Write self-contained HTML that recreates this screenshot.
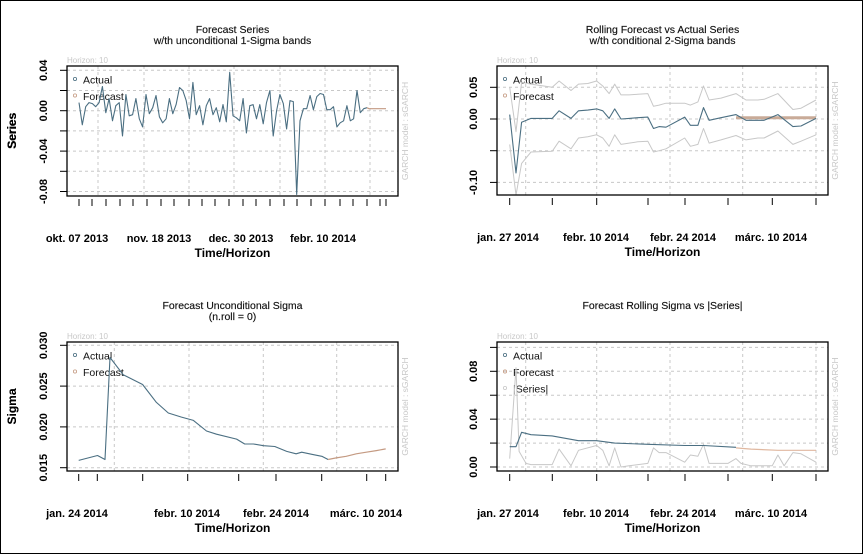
<!DOCTYPE html>
<html><head><meta charset="utf-8"><style>
html,body{margin:0;padding:0;background:#fff;}
svg{display:block;font-family:"Liberation Sans",Arial,sans-serif;}
</style></head><body>
<svg id="c" width="863" height="554" viewBox="0 0 863 554" xmlns="http://www.w3.org/2000/svg">
<rect x="0.5" y="0.5" width="862" height="553" fill="#fff" stroke="#000"/>
</svg>
<script>
// ---- Panel 1: Forecast Series ----
const p1Actual=[0.008,-0.014,0.004,0.008,0.007,0.004,0.008,0.024,-0.002,0.012,-0.01,0.005,0.008,-0.025,0.016,-0.005,-0.004,0.012,-0.008,-0.016,0.016,-0.003,0.003,0.015,-0.006,-0.012,-0.008,0.012,-0.003,0.006,0.023,0.02,0.01,-0.008,0.028,-0.004,0.005,-0.014,0.005,0.012,-0.004,0.003,-0.011,0.006,-0.011,0.038,-0.005,-0.007,-0.01,0.012,-0.022,0.005,0.006,-0.008,0.006,-0.013,0.008,0.02,-0.025,0,0.016,0.007,-0.018,0.01,0.009,-0.083,-0.01,0.002,0.002,0.015,0.001,0.014,0.017,0.016,0.001,0.001,0.004,-0.016,-0.012,-0.01,0.005,-0.01,-0.008,0.02,-0.002,0.002,0.003];
const p1Forecast=[0.003,0.002,0.002,0.002,0.002,0.002,0.002,0.002,0.002,0.002,0.002];
const p1YTicks=[0.04,0.02,0,-0.02,-0.04,-0.06,-0.08];
const p1YLabels=["0.04","","0.00","","-0.04","","-0.08"];
const p1XLabels=["okt. 07 2013","nov. 18 2013","dec. 30 2013","febr. 10 2014"];
// ---- Panel 2: Rolling forecast vs actual ----
const p2T=[0,1,1.9,3.4,6.8,7.9,9.8,11,12.5,13.9,14.9,15.9,16.8,17.8,19.1,20.5,22.1,23,23.9,25,28,28.9,30.1,31,31.9,33.8,36.2,37.8,39.7,40.7,42.9,45.3,46.6,49];
const p2Actual=[0.007,-0.085,-0.005,0.001,0.001,0.013,0.001,0.013,0.014,0.016,0.013,0.001,0.016,0,0.001,0.002,0.003,-0.015,-0.012,-0.013,0.003,-0.01,-0.01,0.018,-0.002,0.002,0.007,-0.002,-0.002,-0.002,0.007,-0.012,-0.011,0.001];
const p2Upper=[0.05,-0.02,0.058,0.055,0.05,0.06,0.045,0.055,0.056,0.06,0.052,0.04,0.055,0.038,0.038,0.039,0.04,0.02,0.022,0.025,0.025,0.022,0.027,0.052,0.03,0.033,0.04,0.03,0.03,0.031,0.04,0.015,0.017,0.03];
const p2Lower=[-0.04,-0.12,-0.07,-0.052,-0.051,-0.035,-0.047,-0.03,-0.028,-0.025,-0.03,-0.043,-0.025,-0.04,-0.038,-0.036,-0.035,-0.052,-0.05,-0.047,-0.03,-0.043,-0.04,-0.015,-0.038,-0.033,-0.026,-0.033,-0.03,-0.03,-0.019,-0.04,-0.035,-0.025];
const p2FcT=[36.2,49];
const p2Forecast=[0.002,0.002];
const p2YTicks=[0.05,0,-0.05,-0.1];
const p2YLabels=["0.05","0.00","","-0.10"];
const p2XLabels=["jan. 27 2014","febr. 10 2014","febr. 24 2014","márc. 10 2014"];
// ---- Panel 3: Unconditional sigma ----
const p3T=[0,3,4.2,5,7.1,10.2,12.4,14.3,16.4,18.3,20.4,22,25.2,26.5,27.9,29.5,31.3,33.2,34.7,35.6,37.4,38.8,39.8];
const p3Actual=[0.0159,0.0165,0.016,0.0285,0.0264,0.0252,0.023,0.0217,0.0212,0.0208,0.0195,0.0191,0.0185,0.0179,0.0179,0.0177,0.0176,0.017,0.0167,0.0169,0.0166,0.0164,0.016];
const p3FcT=[39.8,41.1,42.7,44.3,45.9,47.5,49];
const p3Forecast=[0.016,0.0162,0.0164,0.0167,0.0169,0.0171,0.0173];
const p3YTicks=[0.03,0.025,0.02,0.015];
const p3YLabels=["0.030","0.025","0.020","0.015"];
const p3XLabels=["jan. 24 2014","febr. 10 2014","febr. 24 2014","márc. 10 2014"];
// ---- Panel 4: Rolling sigma vs |series| ----
const p4T=[0,1,1.9,3.4,6.8,11,13.9,16.8,22.1,28,31,36.2];
const p4Actual=[0.017,0.017,0.029,0.027,0.026,0.022,0.022,0.02,0.019,0.018,0.018,0.0165];
const p4FcT=[36.2,38.6,42.9,49];
const p4Forecast=[0.016,0.015,0.014,0.014];
const p4AbsT=[0,1,1.5,2.6,3.4,6.8,7.9,9.8,11,13.9,14.9,15.9,16.8,17.8,19.1,22.1,23,23.9,25,28,28.9,30.1,31,31.9,34.9,36.2,37,38.6,40.7,42,42.9,43.9,45.3,46.6,49];
const p4Abs=[0.007,0.083,0.013,0.003,0.002,0.002,0.015,0.001,0.014,0.018,0.014,0.001,0.016,0,0.001,0.003,0.016,0.012,0.012,0.004,0.01,0.009,0.019,0.003,0.003,0.007,0.003,0.001,0.001,0.001,0.01,0.001,0.012,0.011,0.004];
const p4YTicks=[0.1,0.08,0.06,0.04,0.02,0];
const p4YLabels=["","0.08","","0.04","","0.00"];
const p4XLabels=["jan. 27 2014","febr. 10 2014","febr. 24 2014","márc. 10 2014"];

const NS="http://www.w3.org/2000/svg";
const svg=document.getElementById('c');
const BLUE="#4b6f82",TAN="#c49a82",GRAY="#c8c8c8";
function mk(tag,attrs,parent,text){const e=document.createElementNS(NS,tag);for(const k in attrs)e.setAttribute(k,attrs[k]);if(text!==undefined)e.textContent=text;(parent||svg).appendChild(e);return e;}
function lin(d0,d1,r0,r1){return v=>r0+(v-d0)*(r1-r0)/(d1-d0);}
function path(xs,ys,fx,fy){return xs.map((x,i)=>(i?'L':'M')+fx(x).toFixed(1)+','+fy(ys[i]).toFixed(1)).join('');}

function frame(g,P){
  const b=mk('rect',{x:P.x0,y:P.y0,width:P.x1-P.x0,height:P.y1-P.y0,fill:'none',stroke:'#000','stroke-width':1.3},g);
  
  
}

function axes(g,P,fy,yTicks,yLabels,vgrid,xTicks,xLabels,xLabelPos,title1,title2,ylab,legend){
  yTicks.forEach(v=>{const l=mk('line',{x1:P.x0,x2:P.x1,y1:fy(v),y2:fy(v),stroke:'#c8c8c8','stroke-dasharray':'3,3'},g);
    
    });
  vgrid.forEach(x=>{const l=mk('line',{x1:x,x2:x,y1:P.y0,y2:P.y1,stroke:'#c8c8c8','stroke-dasharray':'3,3'},g);
    
    });
  yTicks.forEach((v,i)=>{const y=fy(v);
    const t=mk('line',{x1:P.x0-7,x2:P.x0,y1:y,y2:y,stroke:'#000'},g);
    
    
    if(yLabels[i]){const tx=mk('text',{x:P.x0-20,y:y,transform:`rotate(-90 ${P.x0-20} ${y})`,'text-anchor':'middle','font-size':11,'font-weight':'bold'},g,yLabels[i]);
      
      }});
  xTicks.forEach(x=>{const t=mk('line',{x1:x,x2:x,y1:P.y1+3,y2:P.y1+10,stroke:'#000'},g);
    
    });
  xLabels.forEach((s,i)=>{const t=mk('text',{x:xLabelPos[i],y:P.y1+46,'text-anchor':'middle','font-size':11,'font-weight':'bold'},g,s);
    
    });
  const xt=mk('text',{x:(P.x0+P.x1)/2,y:P.y1+61,'text-anchor':'middle','font-size':12,'font-weight':'bold'},g,'Time/Horizon');
  
  
  const cy=(P.y0+P.y1)/2;
  const yt=mk('text',{x:16,y:cy,transform:`rotate(-90 16 ${cy})`,'text-anchor':'middle','font-size':12,'font-weight':'bold'},g,ylab);
  
  
  const cx=(P.x0+P.x1)/2;
  const t1=mk('text',{x:cx,y:P.y0-33,'text-anchor':'middle','font-size':10.5,fill:'#111','stroke':'#111','stroke-width':0.15},g,title1);
  
  
  if(title2){const t2=mk('text',{x:cx,y:P.y0-22,'text-anchor':'middle','font-size':10.5,fill:'#111','stroke':'#111','stroke-width':0.15},g,title2);
    
    }
  const hz=mk('text',{x:P.x0,y:P.y0-3,'font-size':8,fill:'#c8c8c8'},g,'Horizon: 10');
  
  
  const gx=P.x1+10,gy=cy;
  const gm=mk('text',{x:gx,y:gy,transform:`rotate(-90 ${gx} ${gy})`,'text-anchor':'middle','font-size':8.5,fill:'#c8c8c8'},g,'GARCH model : sGARCH');
  
  
  legend.forEach((L,i)=>{const lg=mk('g',{},g);
    
    
    const y=P.y0+14+i*16.5;
    mk('circle',{cx:P.x0+8,cy:y-1,r:1.6,fill:'none',stroke:L[1],'stroke-width':0.8},lg);
    mk('text',{x:P.x0+16,y:y+3.5,'font-size':10.5,fill:'#111'},lg,L[0]);});
}

function series(g,xs,ys,fx,fy,color,w,name){
  const p=mk('path',{d:path(xs,ys,fx,fy),fill:'none',stroke:color,'stroke-width':w,'stroke-linejoin':'round'},g);
  
  
}

// Panel 1
{const g=mk('g',{});
 const P={x0:67,x1:398,y0:66,y1:196};
 const fy=lin(0,0.04,110.7,70.3);
 const n=p1Actual.length;
 const fxA=lin(0,n-1,79,367);
 const fxF=lin(0,p1Forecast.length-1,367,386);
 axes(g,P,fy,p1YTicks,p1YLabels,[98,144,189,234,280,325,370],
   [79,92,106,120,133,147,161,174,189,202,215,229,243,256,270,284,297,311,325,340,353,367,380,386],
   p1XLabels,[77,159,241,323],'Forecast Series','w/th unconditional 1-Sigma bands','Series',[['Actual',BLUE],['Forecast',TAN]]);
 const cp=mk('clipPath',{id:'cp1'},g);mk('rect',{x:P.x0,y:P.y0,width:P.x1-P.x0,height:P.y1-P.y0},cp);
 const sg=mk('g',{'clip-path':'url(#cp1)'},g);
 series(sg,p1Actual.map((_,i)=>i),p1Actual,fxA,fy,BLUE,1.1,'actual-series-line');
 series(sg,p1Forecast.map((_,i)=>i),p1Forecast,fxF,fy,TAN,1.2,'forecast-series-line');
 frame(g,P);}

// Panel 2
{const g=mk('g',{});
 const P={x0:497,x1:828,y0:66,y1:195};
 const fy=lin(0,0.05,119,87.3);
 const fx=lin(0,49,509.7,816);
 axes(g,P,fy,p2YTicks,p2YLabels,[525.7,596.7,670,742.7,816],[509.7,552.3,596.7,648,685,728,772.3,816],
   p2XLabels,[508,596,683,771],'Rolling Forecast vs Actual Series','w/th conditional 2-Sigma bands','Series',[['Actual',BLUE],['Forecast',TAN]]);
 const cp=mk('clipPath',{id:'cp2'},g);mk('rect',{x:P.x0,y:P.y0,width:P.x1-P.x0,height:P.y1-P.y0},cp);
 const sg=mk('g',{'clip-path':'url(#cp2)'},g);
 series(sg,p2T,p2Upper,fx,fy,GRAY,1,'upper-band-line');
 series(sg,p2T,p2Lower,fx,fy,GRAY,1,'lower-band-line');
 series(sg,p2FcT,p2Forecast,fx,fy,'#c9ab98',3,'forecast-line');
 series(sg,p2T,p2Actual,fx,fy,BLUE,1.1,'actual-line');
 frame(g,P);}

// Panel 3
{const g=mk('g',{});
 const P={x0:67,x1:398,y0:342,y1:471};
 const fy=lin(0.015,0.03,467.7,345.3);
 const fx=lin(0,49,78.7,385.7);
 axes(g,P,fy,p3YTicks,p3YLabels,[114.3,189,263.3,336.7],[78.7,97.3,142.7,187.7,238.7,276,321.7,366.7,385.7],
   p3XLabels,[77,187,276,366],'Forecast Unconditional Sigma','(n.roll = 0)','Sigma',[['Actual',BLUE],['Forecast',TAN]]);
 series(g,p3T,p3Actual,fx,fy,BLUE,1.1,'actual-sigma-line');
 series(g,p3FcT,p3Forecast,fx,fy,TAN,1.2,'forecast-sigma-line');
 frame(g,P);}

// Panel 4
{const g=mk('g',{});
 const P={x0:497,x1:828,y0:342,y1:471};
 const fy=lin(0,0.08,467,371.3);
 const fx=lin(0,49,509.7,816);
 axes(g,P,fy,p4YTicks,p4YLabels,[525.7,596.7,670,742.7,816],[509.7,552.3,596.7,648,685,728,772.3,816],
   p4XLabels,[508,596,683,771],'Forecast Rolling Sigma vs |Series|','','Sigma',[['Actual',BLUE],['Forecast',TAN],['|Series|',GRAY]]);
 series(g,p4AbsT,p4Abs,fx,fy,GRAY,1,'abs-series-line');
 series(g,p4FcT,p4Forecast,fx,fy,'#e0b8a0',1.2,'forecast-sigma-line');
 series(g,p4T,p4Actual,fx,fy,BLUE,1.1,'actual-sigma-line');
 frame(g,P);}
</script>
</body></html>
